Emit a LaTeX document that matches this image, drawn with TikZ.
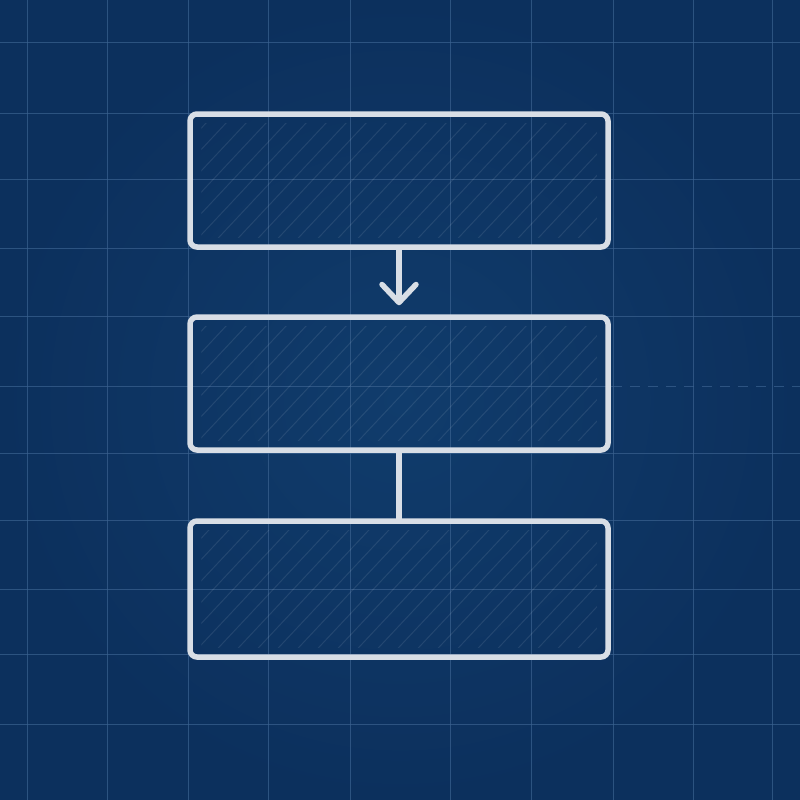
\documentclass[tikz,border=0pt]{standalone}
\usetikzlibrary{arrows.meta}
\definecolor{paperin}{HTML}{103C6C}
\definecolor{paperout}{HTML}{0C305D}
\definecolor{gridline}{HTML}{3B6290}
\definecolor{chalk}{HTML}{D8DEE6}
\tikzset{
  block/.style={draw=chalk, line width=5.5pt, rounded corners=7pt,
    minimum width=418pt, minimum height=133pt, inner sep=0pt},
  gridl/.style={gridline, line width=1pt, opacity=.7},
  hatch/.style={white, opacity=.09, line width=1pt},
  wire/.style={chalk, line width=5.5pt, line cap=round},
}
\begin{document}
\begin{tikzpicture}[x=1pt,y=-1pt]
    \useasboundingbox (0,0) rectangle (800,800);
    \shade[inner color=paperin, outer color=paperout] (0,0) rectangle (800,800);
    % grid
    \foreach \x in {27,107,188,268,350,450,531,613,693,772}
        \draw[gridl] (\x,0) -- (\x,800);
    \foreach \y in {43,113,179,248,316,453,520,589,654,724}
        \draw[gridl] (0,\y) -- (800,\y);
    \draw[gridl] (0,386) -- (612,386);
    \draw[gridl, dash pattern=on 10pt off 8pt] (612,386) -- (800,386);
    % blocks
    \node[block] (top) at (399,180.5) {};
    \node[block] (mid) at (399,383.5) {};
    \node[block, minimum height=136pt] (bot) at (399,589) {};
    % hatching
    \foreach \b in {top,mid,bot}{
        \begin{scope}
            \clip ([shift={(14pt,12pt)}]\b.south west) rectangle ([shift={(-14pt,-12pt)}]\b.north east);
            \foreach \i in {-140,-120,...,420}
                \draw[hatch] ([xshift=\i pt]\b.south west) -- ++(150,-160);
        \end{scope}
    }
    % links
    \draw[wire, -{Straight Barb[length=18pt,width=34pt,round]}, shorten >=9pt] (top) -- (mid);
    \draw[wire] (mid) -- (bot);
\end{tikzpicture}
\end{document}
